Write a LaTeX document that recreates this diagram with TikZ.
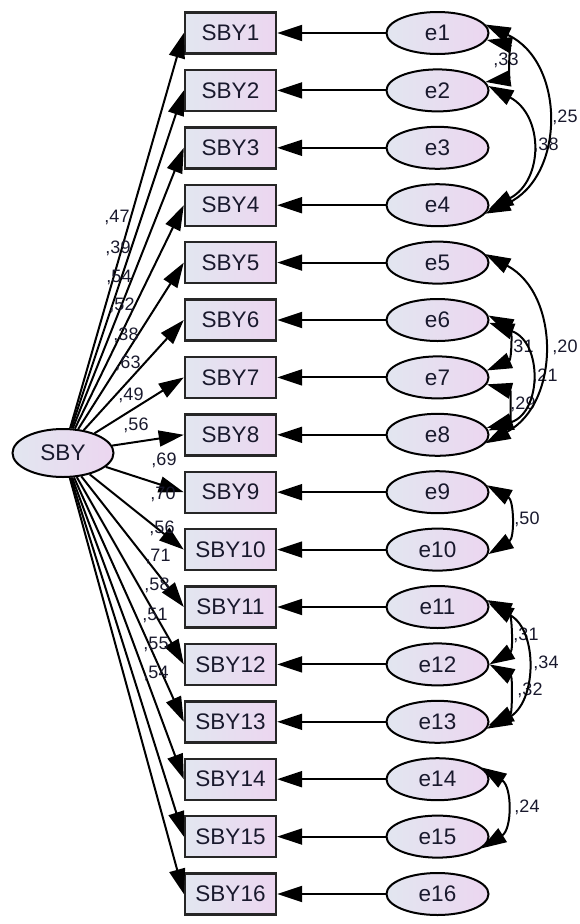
\documentclass[tikz,border=0pt]{standalone}
\usepackage{fontspec}
\setmainfont{Liberation Sans}
\usetikzlibrary{arrows.meta,shapes}

\definecolor{fillleft}{RGB}{226,230,240}
\definecolor{fillright}{RGB}{236,214,240}
\definecolor{inktext}{RGB}{25,25,45}

\tikzset{
  obs/.style={rectangle, draw=black!85, line width=2.4pt, minimum width=91pt,
    minimum height=41pt, inner sep=0pt, left color=fillleft, right color=fillright,
    text=inktext, font=\fontsize{22.5}{26}\selectfont},
  err/.style={ellipse, draw=black, line width=2pt, minimum width=102pt,
    minimum height=42pt, inner sep=0pt, left color=fillleft, right color=fillright,
    text=inktext, font=\fontsize{22.5}{26}\selectfont},
  lat/.style={err, minimum width=101pt, minimum height=48pt},
  coef/.style={text=inktext, inner sep=0pt, font=\fontsize{18}{20}\selectfont},
  link/.style={-{Triangle[length=25pt,width=16pt]}, line width=2pt},
  cov/.style={{Triangle[length=25pt,width=16pt]}-{Triangle[length=25pt,width=16pt]}, line width=2pt},
}

\begin{document}
\begin{tikzpicture}[x=1pt,y=1pt]
\useasboundingbox (0,0) rectangle (579,-924);

  % latent factor
  \node[lat] (SBY) at (63,-453) {SBY};

  % observed items
  \node[obs] (b1) at (230.5,-33) {SBY1};
  \node[obs] (b2) at (230.5,-90.4) {SBY2};
  \node[obs] (b3) at (230.5,-147.8) {SBY3};
  \node[obs] (b4) at (230.5,-205.2) {SBY4};
  \node[obs] (b5) at (230.5,-262.6) {SBY5};
  \node[obs] (b6) at (230.5,-320) {SBY6};
  \node[obs] (b7) at (230.5,-377.4) {SBY7};
  \node[obs] (b8) at (230.5,-434.8) {SBY8};
  \node[obs] (b9) at (230.5,-492.2) {SBY9};
  \node[obs] (b10) at (230.5,-549.6) {SBY10};
  \node[obs] (b11) at (230.5,-607) {SBY11};
  \node[obs] (b12) at (230.5,-664.4) {SBY12};
  \node[obs] (b13) at (230.5,-721.8) {SBY13};
  \node[obs] (b14) at (230.5,-779.2) {SBY14};
  \node[obs] (b15) at (230.5,-836.6) {SBY15};
  \node[obs] (b16) at (230.5,-894) {SBY16};

  % error terms
  \node[err] (e1) at (437.5,-33) {e1};
  \node[err] (e2) at (437.5,-90.4) {e2};
  \node[err] (e3) at (437.5,-147.8) {e3};
  \node[err] (e4) at (437.5,-205.2) {e4};
  \node[err] (e5) at (437.5,-262.6) {e5};
  \node[err] (e6) at (437.5,-320) {e6};
  \node[err] (e7) at (437.5,-377.4) {e7};
  \node[err] (e8) at (437.5,-434.8) {e8};
  \node[err] (e9) at (437.5,-492.2) {e9};
  \node[err] (e10) at (437.5,-549.6) {e10};
  \node[err] (e11) at (437.5,-607) {e11};
  \node[err] (e12) at (437.5,-664.4) {e12};
  \node[err] (e13) at (437.5,-721.8) {e13};
  \node[err] (e14) at (437.5,-779.2) {e14};
  \node[err] (e15) at (437.5,-836.6) {e15};
  \node[err] (e16) at (437.5,-894) {e16};

  % loadings
  \draw[link] (SBY) -- (b1.west);
  \draw[link] (SBY) -- (b2.west);
  \draw[link] (SBY) -- (b3.west);
  \draw[link] (SBY) -- (b4.west);
  \draw[link] (SBY) -- (b5.west);
  \draw[link] (SBY) -- (b6.west);
  \draw[link] (SBY) -- (b7.west);
  \draw[link] (SBY) -- (b8.west);
  \draw[link] (SBY) -- (b9.west);
  \draw[link] (SBY) -- (b10.west);
  \draw[link] (SBY) -- (b11.west);
  \draw[link] (SBY) -- (b12.west);
  \draw[link] (SBY) -- (b13.west);
  \draw[link] (SBY) -- (b14.west);
  \draw[link] (SBY) -- (b15.west);
  \draw[link] (SBY) -- (b16.west);

  \node[coef] (l1) at (117,-217) {,47};
  \node[coef] (l2) at (118,-248) {,39};
  \node[coef] (l3) at (119,-277) {,54};
  \node[coef] (l4) at (122,-305) {,52};
  \node[coef] (l5) at (126,-335) {,38};
  \node[coef] (l6) at (128,-363) {,63};
  \node[coef] (l7) at (131,-395) {,49};
  \node[coef] (l8) at (136,-425) {,56};
  \node[coef] (l9) at (164,-460) {,69};
  \node[coef] (l10) at (163,-494) {,70};
  \node[coef] (l11) at (162,-528) {,56};
  \node[coef] (l12) at (158,-556) {,71};
  \node[coef] (l13) at (157,-585) {,58};
  \node[coef] (l14) at (155,-615) {,51};
  \node[coef] (l15) at (156,-644) {,55};
  \node[coef] (l16) at (156,-673) {,54};

  % error paths
  \draw[link] (e1) -- (b1);
  \draw[link] (e2) -- (b2);
  \draw[link] (e3) -- (b3);
  \draw[link] (e4) -- (b4);
  \draw[link] (e5) -- (b5);
  \draw[link] (e6) -- (b6);
  \draw[link] (e7) -- (b7);
  \draw[link] (e8) -- (b8);
  \draw[link] (e9) -- (b9);
  \draw[link] (e10) -- (b10);
  \draw[link] (e11) -- (b11);
  \draw[link] (e12) -- (b12);
  \draw[link] (e13) -- (b13);
  \draw[link] (e14) -- (b14);
  \draw[link] (e15) -- (b15);
  \draw[link] (e16) -- (b16);

  % covariances
  \node[coef] (c1) at (506,-60) {,33};
  \node[coef] (c2) at (565,-117) {,25};
  \node[coef] (c3) at (546,-145) {,38};
  \node[coef] (c4) at (565,-347) {,20};
  \node[coef] (c5) at (521,-347) {,31};
  \node[coef] (c6) at (545,-376) {,21};
  \node[coef] (c7) at (523,-404) {,29};
  \node[coef] (c8) at (527,-519) {,50};
  \node[coef] (c9) at (526,-635) {,31};
  \node[coef] (c10) at (546,-663) {,34};
  \node[coef] (c11) at (530,-690) {,32};
  \node[coef] (c12) at (527,-807) {,24};

  \draw[cov] (e1.-8) to[bend left=80, looseness=1.4] (e2.10);
  \draw[cov] (e1.10) to[bend left=65, looseness=1.2] (e4.-10);
  \draw[cov] (e2.5) to[bend left=62, looseness=1.3] (e4.-5);
  \draw[cov] (e5.10) to[bend left=62, looseness=1.15] (e8.-10);
  \draw[cov] (e6.5) to[bend left=65, looseness=1.25] (e7.8);
  \draw[cov] (e6.-3) to[bend left=70, looseness=1.35] (e8.5);
  \draw[cov] (e7.-8) to[bend left=75, looseness=1.45] (e8.8);
  \draw[cov] (e9.8) to[bend left=60, looseness=1.15] (e10.-5);
  \draw[cov] (e11.8) to[bend left=62, looseness=1.1] (e12.0);
  \draw[cov] (e11.4) to[bend left=62, looseness=1.15] (e13.-8);
  \draw[cov] (e12.0) to[bend left=62, looseness=1.1] (e13.-4);
  \draw[cov] (e14.15) to[bend left=58, looseness=1.15] (e15.-15);

\end{tikzpicture}
\end{document}
